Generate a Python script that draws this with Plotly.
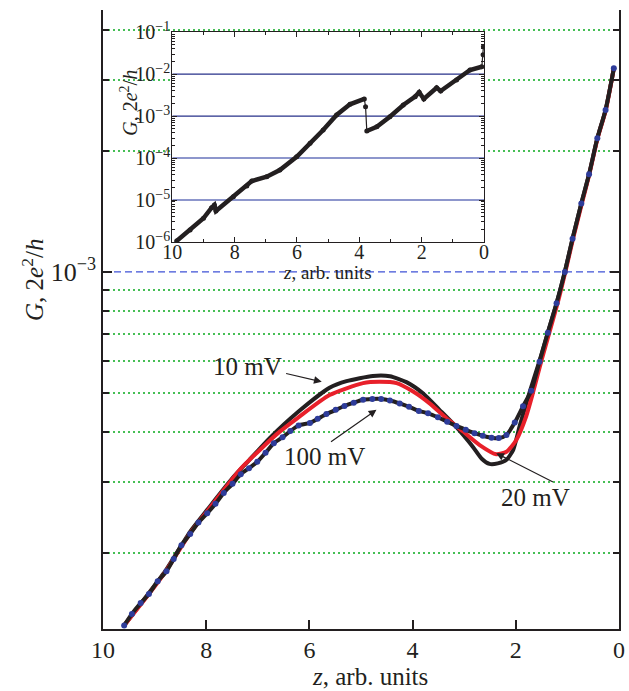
import numpy as np
import plotly.graph_objects as go

# ---- main panel: conductance G (units of 2e^2/h) vs. position z at three bias voltages
z_10mv = [9.59, 9.11, 8.77, 8.31, 7.98, 7.49, 7.16, 6.77, 6.25, 5.61,
          5.28, 4.77, 4.44, 4.12, 3.80, 3.48, 3.15, 2.83, 2.66, 2.51,
          2.35, 2.18, 2.05, 1.92, 1.73, 1.54, 1.38, 1.21, 1.05, 0.90,
          0.73, 0.58, 0.42, 0.26, 0.10]
g_10mv = [1.32e-4, 1.59e-4, 1.82e-4, 2.26e-4, 2.56e-4, 3.07e-4, 3.41e-4, 3.86e-4, 4.45e-4, 5.15e-4,
          5.35e-4, 5.51e-4, 5.50e-4, 5.32e-4, 4.99e-4, 4.54e-4, 4.11e-4, 3.67e-4, 3.43e-4, 3.33e-4,
          3.34e-4, 3.41e-4, 3.61e-4, 4.16e-4, 5.03e-4, 6.01e-4, 7.06e-4, 8.36e-4, 1.00e-3, 1.21e-3,
          1.48e-3, 1.75e-3, 2.15e-3, 2.53e-3, 3.21e-3]

z_20mv = [9.59, 9.11, 8.77, 8.31, 7.98, 7.61, 7.35, 6.90, 6.58, 6.23,
          5.61, 4.96, 4.64, 4.31, 3.99, 3.67, 3.35, 3.02, 2.70, 2.38,
          2.18, 1.99, 1.80, 1.67, 1.50, 1.19, 1.04, 0.89, 0.72, 0.575,
          0.415, 0.255, 0.10]
g_20mv = [1.32e-4, 1.58e-4, 1.81e-4, 2.24e-4, 2.54e-4, 2.92e-4, 3.22e-4, 3.67e-4, 4.00e-4, 4.33e-4,
          4.94e-4, 5.29e-4, 5.33e-4, 5.29e-4, 5.04e-4, 4.71e-4, 4.33e-4, 4.01e-4, 3.71e-4, 3.52e-4,
          3.57e-4, 3.82e-4, 4.37e-4, 4.99e-4, 6.04e-4, 8.36e-4, 1.00e-3, 1.21e-3, 1.48e-3, 1.75e-3,
          2.15e-3, 2.53e-3, 3.21e-3]

z_100mv = [9.59, 9.44, 9.27, 9.11, 8.94, 8.77, 8.63, 8.48, 8.31, 8.15,
           7.98, 7.82, 7.66, 7.49, 7.33, 7.17, 7.01, 6.85, 6.69, 6.52,
           6.37, 6.21, 5.99, 5.84, 5.67, 5.49, 5.32, 5.14, 4.96, 4.78,
           4.61, 4.44, 4.25, 4.07, 3.88, 3.70, 3.51, 3.33, 3.15, 2.97,
           2.80, 2.64, 2.47, 2.33, 2.18, 2.02, 1.86, 1.70, 1.54, 1.38,
           1.21, 1.05, 0.90, 0.73, 0.58, 0.42, 0.26, 0.10]
g_100mv = [1.32e-4, 1.41e-4, 1.50e-4, 1.58e-4, 1.70e-4, 1.80e-4, 1.93e-4, 2.09e-4, 2.23e-4, 2.38e-4,
           2.51e-4, 2.65e-4, 2.82e-4, 2.97e-4, 3.14e-4, 3.25e-4, 3.37e-4, 3.55e-4, 3.75e-4, 3.88e-4,
           4.02e-4, 4.15e-4, 4.21e-4, 4.31e-4, 4.43e-4, 4.54e-4, 4.64e-4, 4.73e-4, 4.81e-4, 4.83e-4,
           4.83e-4, 4.79e-4, 4.71e-4, 4.62e-4, 4.51e-4, 4.45e-4, 4.35e-4, 4.24e-4, 4.14e-4, 4.05e-4,
           3.97e-4, 3.91e-4, 3.87e-4, 3.86e-4, 3.93e-4, 4.22e-4, 4.63e-4, 5.06e-4, 5.98e-4, 7.06e-4,
           8.36e-4, 1.00e-3, 1.21e-3, 1.48e-3, 1.75e-3, 2.15e-3, 2.53e-3, 3.21e-3]

# ---- inset: full conductance trace over six decades
inset_z = [9.86, 9.43, 9.00, 8.74, 8.65, 8.60, 8.04, 7.61, 7.45, 6.97,
           6.55, 6.01, 5.58, 5.16, 4.73, 4.30, 3.84, 3.80, 3.76, 3.44,
           3.02, 2.59, 2.21, 2.08, 1.93, 1.52, 1.39, 0.88, 0.45, 0.07,
           0.03, 0.02]
inset_g = [1.06e-6, 1.93e-6, 3.67e-6, 6.58e-6, 7.6e-6, 5.5e-6, 1.20e-5, 2.16e-5, 2.84e-5, 3.61e-5,
           5.21e-5, 1.08e-4, 2.25e-4, 4.68e-4, 1.07e-3, 1.92e-3, 2.57e-3, 1.68e-3, 4.44e-4, 5.61e-4,
           9.73e-4, 1.85e-3, 2.92e-3, 3.71e-3, 2.57e-3, 4.77e-3, 3.98e-3, 7.30e-3, 1.26e-2, 1.51e-2,
           2.9e-2, 4.5e-2]

# ---- axes ticks / reference levels
x_ticks = [10, 8, 6, 4, 2, 0]
x_top_ticks = [7.5, 6.25, 5.0, 3.75, 2.5, 1.25]
y_major = [1e-3]
y_major_text = ["10<sup>\u22123</sup>"]
y_minor = [2e-4, 3e-4, 4e-4, 5e-4, 6e-4, 7e-4, 8e-4, 9e-4, 2e-3, 3e-3, 4e-3]
inset_x_ticks = [10, 8, 6, 4, 2, 0]
inset_x_minor = [9, 7, 5, 3, 1]
inset_y_ticks = [1e-6, 1e-5, 1e-4, 1e-3, 1e-2, 1e-1]
inset_y_text = ["10<sup>\u22126</sup>", "10<sup>\u22125</sup>", "10<sup>\u22124</sup>",
                "10<sup>\u22123</sup>", "10<sup>\u22122</sup>", "10<sup>\u22121</sup>"]
inset_y_minor = [m * 10.0 ** e for e in range(-6, -1) for m in range(2, 10)]
inset_levels_dark = [1e-2, 1e-3]
inset_levels_light = [1e-4, 1e-5]

# ---- curve labels (text position and arrow head / tail)
label_text = ["10 mV", "100 mV", "20 mV"]
label_z = [7.20, 5.70, 1.61]
label_g = [5.83e-4, 3.47e-4, 2.74e-4]
arrow_head_z = [5.76, 4.70, 2.38]
arrow_head_g = [5.33e-4, 4.54e-4, 3.54e-4]
arrow_tail_z = [6.48, 5.61, 1.25]
arrow_tail_g = [5.60e-4, 3.76e-4, 2.99e-4]

FONT = "Liberation Serif, Times New Roman, serif"
INK = "#231f20"
RED = "#e8202a"
DOT_BLUE = "#2e3c9a"
GREEN = "#46bf55"
DASH_BLUE = "#3f52d6"

fig = go.Figure()

fig.add_trace(go.Scatter(x=z_10mv, y=g_10mv, mode="lines",
                         line=dict(color=INK, width=4, shape="spline", smoothing=0.6),
                         name="10 mV", xaxis="x", yaxis="y"))
fig.add_trace(go.Scatter(x=z_20mv, y=g_20mv, mode="lines",
                         line=dict(color=RED, width=4, shape="spline", smoothing=0.6),
                         name="20 mV", xaxis="x", yaxis="y"))
fig.add_trace(go.Scatter(x=z_100mv, y=g_100mv, mode="lines+markers",
                         line=dict(color=INK, width=4, shape="spline", smoothing=0.6),
                         marker=dict(color=DOT_BLUE, size=6),
                         name="100 mV", xaxis="x", yaxis="y"))

# inset: steep jumps are drawn as thin connectors, the rest as a heavy trace
lg = np.log10(inset_g)
steep = np.abs(np.diff(lg) / np.diff(inset_z)) > 3.5
thick_x, thick_y = [], []
for i, (zz, gg) in enumerate(zip(inset_z, inset_g)):
    thick_x.append(zz)
    thick_y.append(gg)
    if i < len(steep) and steep[i]:
        thick_x.append(None)
        thick_y.append(None)

fig.add_trace(go.Scatter(x=inset_z, y=inset_g, mode="lines+markers",
                         line=dict(color=INK, width=1.2),
                         marker=dict(color=INK, size=5),
                         xaxis="x3", yaxis="y3", showlegend=False))
fig.add_trace(go.Scatter(x=thick_x, y=thick_y, mode="lines",
                         line=dict(color=INK, width=4.5), connectgaps=False,
                         xaxis="x3", yaxis="y3", showlegend=False))

# dashed reference level at the labelled decade of the main panel
for lev in y_major:
    fig.add_shape(type="line", xref="x", yref="y", x0=10, x1=0, y0=lev, y1=lev,
                  line=dict(color=DASH_BLUE, width=1.3, dash="7px,4px"), layer="between")

# white backing for the inset and its reference levels (shape positions are data values)
fig.add_shape(type="rect", xref="x3", yref="y3", x0=10, x1=0,
              y0=inset_y_ticks[0], y1=inset_y_ticks[-1],
              fillcolor="white", line=dict(width=0), layer="between")
for lev in inset_levels_dark:
    fig.add_shape(type="line", xref="x3", yref="y3", x0=10, x1=0, y0=lev, y1=lev,
                  line=dict(color="#27308a", width=1.2), layer="between")
for lev in inset_levels_light:
    fig.add_shape(type="line", xref="x3", yref="y3", x0=10, x1=0, y0=lev, y1=lev,
                  line=dict(color="#8d96cc", width=2), layer="between")

annotations = []
for t, zx, gy in zip(label_text, label_z, label_g):
    annotations.append(dict(x=zx, y=np.log10(gy), xref="x", yref="y", text=t,
                            xanchor="center", yanchor="middle",
                            showarrow=False, font=dict(size=25, color=INK, family=FONT)))
for hz, hg, tz, tg in zip(arrow_head_z, arrow_head_g, arrow_tail_z, arrow_tail_g):
    annotations.append(dict(x=hz, y=np.log10(hg), ax=tz, ay=np.log10(tg),
                            xref="x", yref="y", axref="x", ayref="y", text="",
                            showarrow=True, arrowhead=2, arrowsize=1.3, arrowwidth=1.2,
                            arrowcolor=INK))
# axis titles
title_specs = [
    (-0.1357, 0.5638, "<i>G</i>, 2<i>e</i><sup>2</sup>/<i>h</i>", -90, 25),
    (0.5174, -0.0775, "<i>z</i>, arb. units", 0, 25),
    (0.0500, 0.8498, "<i>G</i>, 2<i>e</i><sup>2</sup>/<i>h</i>", -90, 20),
    (0.436, 0.5767, "<i>z</i>, arb. units", 0, 19),
]
for px, py, txt, ang, size in title_specs:
    annotations.append(dict(x=px, y=py, xref="paper", yref="paper", text=txt,
                            textangle=ang, xanchor="center", yanchor="middle",
                            showarrow=False, font=dict(size=size, color=INK, family=FONT)))

axis_common = dict(showline=True, linecolor=INK, zeroline=False, tickcolor=INK,
                   automargin=False)

fig.update_layout(
    width=629, height=691,
    margin=dict(l=103, r=10, t=10, b=62, autoexpand=False),
    paper_bgcolor="white", plot_bgcolor="white",
    showlegend=False,
    font=dict(family=FONT, color=INK),
    annotations=annotations,
    xaxis=dict(**axis_common, range=[10, 0], tickvals=x_ticks, ticks="inside",
               ticklen=9, tickwidth=1.5, linewidth=1.5, showgrid=False,
               ticklabelstandoff=-2,
               tickfont=dict(size=24, family=FONT, color=INK)),
    xaxis2=dict(**axis_common, overlaying="x", side="top", anchor="y", range=[10, 0],
                tickvals=x_top_ticks, ticks="inside", ticklen=4, linewidth=1.5,
                showticklabels=False, showgrid=False),
    yaxis=dict(**axis_common, type="log", range=[-3.8883, -2.3483],
               tickvals=y_major, ticktext=y_major_text, ticks="inside", ticklen=9,
               tickwidth=1.5, linewidth=1.5, mirror="ticks", showgrid=False,
               tickfont=dict(size=26, family=FONT, color=INK),
               minor=dict(tickvals=y_minor, ticks="inside", ticklen=6, tickcolor=INK,
                          showgrid=True, gridcolor=GREEN, griddash="2px,3px", gridwidth=1.5)),
    xaxis3=dict(**axis_common, domain=[0.1343, 0.7384], anchor="y3", range=[10, 0],
                tickvals=inset_x_ticks, ticks="inside", ticklen=5, linewidth=1.2,
                mirror="ticks", showgrid=False, ticklabelstandoff=-8,
                tickfont=dict(size=20, family=FONT, color=INK),
                minor=dict(tickvals=inset_x_minor, ticks="inside", ticklen=3, tickcolor=INK)),
    yaxis3=dict(**axis_common, domain=[0.6252, 0.9640], anchor="x3", type="log",
                range=[-6, -1], tickvals=inset_y_ticks, ticktext=inset_y_text,
                ticks="inside", ticklen=5, linewidth=1.2, mirror="ticks", showgrid=False,
                ticklabelstandoff=-3,
                tickfont=dict(size=20, family=FONT, color=INK),
                minor=dict(tickvals=inset_y_minor, ticks="inside", ticklen=3, tickcolor=INK)),
)

fig.write_html("out.html")
